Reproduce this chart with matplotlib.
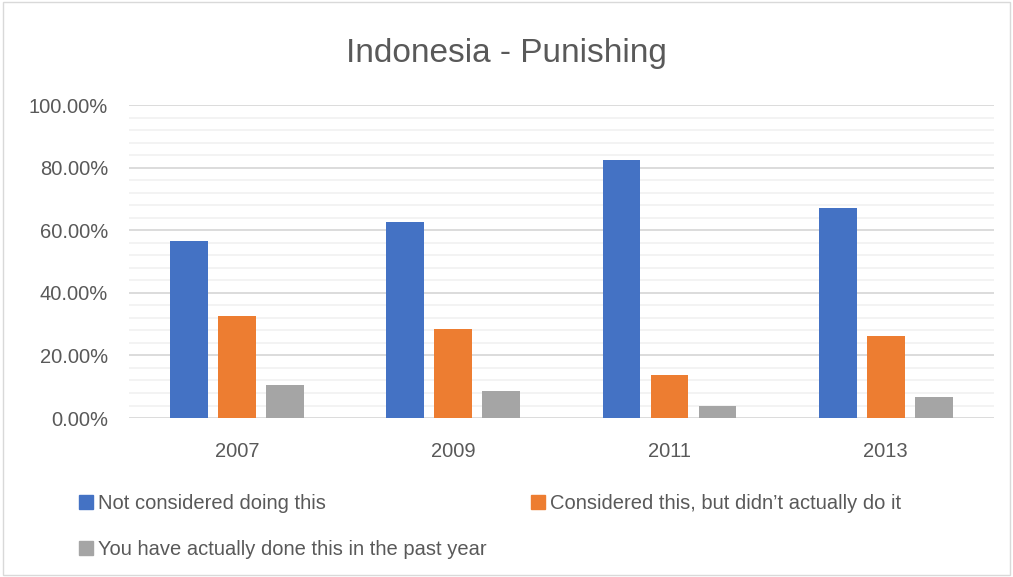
import numpy as np
import matplotlib.pyplot as plt
from matplotlib.patches import Patch, Rectangle
from matplotlib.ticker import MultipleLocator, PercentFormatter

plt.rcParams['font.family'] = ['Liberation Sans', 'DejaVu Sans']

years = ['2007', '2009', '2011', '2013']
series_names = ['Not considered doing this',
                'Considered this, but didn\u2019t actually do it',
                'You have actually done this in the past year']
not_considered = [56.6, 62.7, 82.3, 67.0]
considered = [32.7, 28.5, 13.8, 26.3]
done = [10.6, 8.7, 3.9, 6.6]
colors = ['#4472C4', '#ED7D31', '#A5A5A5']

fig = plt.figure(figsize=(10.13, 5.77), dpi=100)
ax = fig.add_axes([0.1273, 0.2755, 0.8537, 0.5425])

x = np.arange(len(years))
width = 0.175
offset = 0.222
for i, (vals, c) in enumerate(zip([not_considered, considered, done], colors)):
    ax.bar(x + (i - 1) * offset, vals, width, color=c, zorder=3)

ax.set_xlim(-0.5, 3.5)
ax.set_ylim(0, 100)
ax.yaxis.set_major_locator(MultipleLocator(20))
ax.yaxis.set_minor_locator(MultipleLocator(4))
ax.yaxis.set_major_formatter(PercentFormatter(decimals=2))
ax.grid(axis='y', which='major', color='#d9d9d9', linewidth=1.3, zorder=0)
ax.grid(axis='y', which='minor', color='#f2f2f2', linewidth=1.3, zorder=0)
ax.set_xticks(x)
ax.set_xticklabels(years)
ax.tick_params(axis='both', which='both', length=0, labelsize=14.5, colors='#595959')
ax.tick_params(axis='x', pad=17)
ax.tick_params(axis='y', pad=15)
for s in ax.spines.values():
    s.set_visible(False)

fig.suptitle('Indonesia - Punishing', y=0.935, fontsize=24, color='#595959')

handles = [Patch(color=c) for c in colors]
# reorder so the legend fills row by row
order = [0, 2, 1]
fig.legend([handles[i] for i in order], [series_names[i] for i in order],
           loc='upper left', bbox_to_anchor=(0.068, 0.161), ncol=2,
           frameon=False, fontsize=14.5, labelcolor='#595959', borderpad=0,
           handlelength=0.7, handleheight=0.7, handletextpad=0.25,
           columnspacing=2.2, labelspacing=1.35)

fig.patches.append(Rectangle((0.003, 0.003), 0.994, 0.994, transform=fig.transFigure,
                             fill=False, edgecolor='#d9d9d9', linewidth=1))

fig.savefig('out.png', dpi=100)
